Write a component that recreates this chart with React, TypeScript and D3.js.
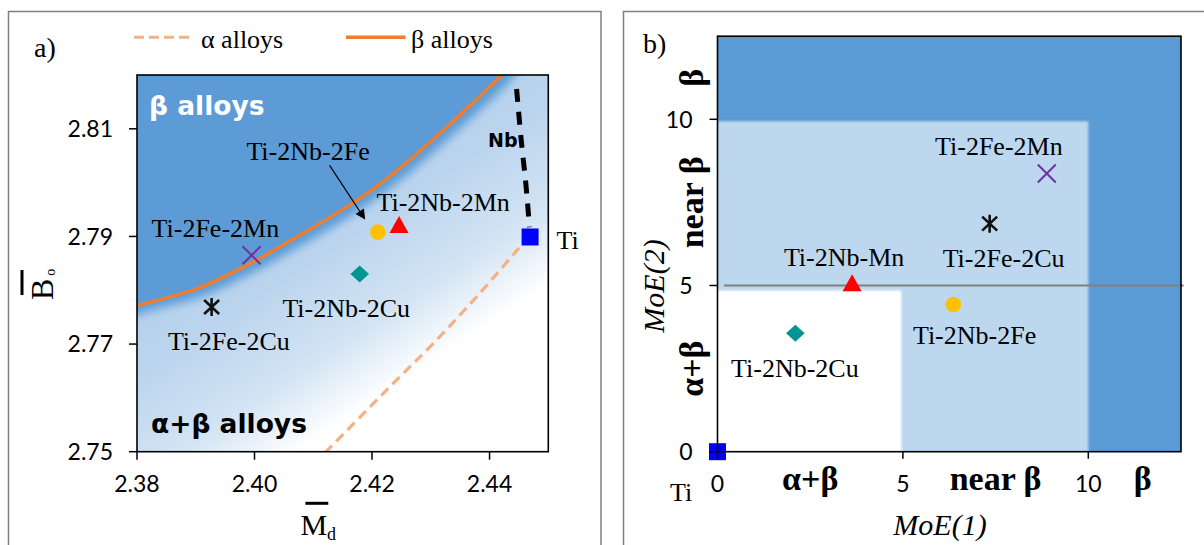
import React from 'react';
import * as d3 from 'd3';

// ---- panel a : Bo vs Md ----
const alloysA = ['Ti', 'Ti-2Nb-2Fe', 'Ti-2Nb-2Mn', 'Ti-2Fe-2Mn', 'Ti-2Nb-2Cu', 'Ti-2Fe-2Cu'];
const mdBar = [2.4469, 2.4210, 2.4246, 2.3995, 2.4179, 2.3927];
const boBar = [2.7899, 2.7908, 2.7917, 2.7865, 2.7830, 2.7769];

// beta / alpha boundary lines and the Nb direction
const betaMd = [2.3800, 2.3902, 2.3981, 2.4072, 2.4174, 2.4242, 2.4327, 2.4423];
const betaBo = [2.7772, 2.7803, 2.7843, 2.7899, 2.7967, 2.8022, 2.8103, 2.8202];
const alphaMd = [2.4469, 2.4454, 2.4383, 2.4304, 2.4247, 2.4191, 2.4120];
const alphaBo = [2.7900, 2.7883, 2.7794, 2.7701, 2.7639, 2.7577, 2.7498];
const nbMd = [2.4446, 2.4454, 2.4462, 2.4468];
const nbBo = [2.8174, 2.8078, 2.7995, 2.7917];

const mdTicks = [2.38, 2.40, 2.42, 2.44];
const boTicks = [2.75, 2.77, 2.79, 2.81];

// ---- panel b : MoE(2) vs MoE(1) ----
const alloysB = ['Ti', 'Ti-2Nb-2Fe', 'Ti-2Nb-Mn', 'Ti-2Fe-2Mn', 'Ti-2Nb-2Cu', 'Ti-2Fe-2Cu'];
const moe1 = [0, 6.36, 3.63, 8.88, 2.10, 7.34];
const moe2 = [0, 4.43, 5.0, 8.37, 3.56, 6.86];
const moeTicks = [0, 5, 10];
const moeLimits = [5, 10];
const zoneNames = ['α+β', 'near β', 'β'];

// marker style per alloy (same order in both panels)
const markerStyles = [
  { kind: 'square', color: '#0000ff' },
  { kind: 'circle', color: '#ffc000' },
  { kind: 'triangle', color: '#ff0000' },
  { kind: 'x', color: '#7030a0' },
  { kind: 'diamond', color: '#00968f' },
  { kind: 'asterisk', color: '#111111' },
];

// label offsets (px) relative to the marker: [dx, dy]
const labelOffA = [[26.5, 11.6], [-131.5, -71.7], [-22.6, -16.7], [-100, -18.3], [-77.3, 42.7], [-43.7, 43.3]];
const labelOffB = [[-47.5, 49.3], [-40.4, 39.7], [-68.2, -20], [-111.7, -18.3], [-64.3, 43.4], [-47, 43.4]];

const SERIF = '"Liberation Serif", "Times New Roman", serif';
const SANS = 'Lato, "Open Sans", sans-serif';
const BOLDSANS = '"DejaVu Sans", Verdana, sans-serif';

const xA = d3.scaleLinear().domain([2.38, 2.45]).range([137, 548.3]);
const yA = d3.scaleLinear().domain([2.75, 2.82]).range([451.7, 75]);
const xB = d3.scaleLinear().domain([0, 12.5]).range([717.5, 1181]);
const yB = d3.scaleLinear().domain([0, 12.5]).range([451.7, 36.2]);

function markerPath(kind: string) {
  const p = d3.path();
  if (kind === 'square') {
    p.rect(-8.5, -8.5, 17, 17);
  } else if (kind === 'circle') {
    p.arc(0, 0, 7.8, 0, Math.PI * 2);
  } else if (kind === 'triangle') {
    p.moveTo(0, -11.3); p.lineTo(9.5, 5.7); p.lineTo(-9.5, 5.7); p.closePath();
  } else if (kind === 'diamond') {
    p.moveTo(0, -8.5); p.lineTo(9.3, 0); p.lineTo(0, 8.5); p.lineTo(-9.3, 0); p.closePath();
  } else if (kind === 'x') {
    p.moveTo(-9, -9); p.lineTo(9, 9); p.moveTo(-9, 9); p.lineTo(9, -9);
  } else {
    p.moveTo(0, -9); p.lineTo(0, 9);
    p.moveTo(-7.5, -7); p.lineTo(7.5, 7); p.moveTo(-7.5, 7); p.lineTo(7.5, -7);
  }
  return p.toString();
}

function Marker({ i, x, y }: { i: number; x: number; y: number }) {
  const s = markerStyles[i];
  const stroked = s.kind === 'x' || s.kind === 'asterisk';
  return (
    <path
      d={markerPath(s.kind)}
      transform={`translate(${x},${y})`}
      fill={stroked ? 'none' : s.color}
      stroke={stroked ? s.color : 'none'}
      strokeWidth={stroked ? (s.kind === 'x' ? 2 : 2.6) : 0}
    />
  );
}

function PanelA() {
  const [l, r] = xA.range();
  const [b, t] = yA.range();
  const curve = d3.line<number>().x(i => xA(betaMd[i])).y(i => yA(betaBo[i])).curve(d3.curveCatmullRom);
  const betaIdx = d3.range(betaMd.length);
  const alphaLine = d3.line<number>().x(i => xA(alphaMd[i])).y(i => yA(alphaBo[i])).curve(d3.curveCatmullRom);
  const nbLine = d3.line<number>().x(i => xA(nbMd[i])).y(i => yA(nbBo[i])).curve(d3.curveCatmullRom);

  // dark beta field: area above the beta line, extended past the frame
  const betaPts: [number, number][] = betaIdx.map(i => [xA(betaMd[i]), yA(betaBo[i])]);
  const darkPts: [number, number][] = [[l - 40, betaPts[0][1] + 14], ...betaPts, [betaPts[betaPts.length - 1][0] + 14, t - 20]];
  const darkArea = d3.area<[number, number]>().x(d => d[0]).y0(t - 60).y1(d => d[1]).curve(d3.curveCatmullRom)(darkPts);

  const feIdx = 1;
  const fx = xA(mdBar[feIdx]);
  const fy = yA(boBar[feIdx]);

  return (
    <g>
      <defs>
        <clipPath id="clipA"><rect x={l} y={t} width={r - l} height={b - t} /></clipPath>
        <linearGradient id="gradA" gradientUnits="userSpaceOnUse" x1={119} y1={176} x2={300.5} y2={450}>
          <stop offset="0" stopColor="#a9c8e8" />
          <stop offset="0.55" stopColor="#bcd5ee" />
          <stop offset="0.8" stopColor="#d3e4f4" />
          <stop offset="1" stopColor="#ffffff" />
        </linearGradient>
        <filter id="blurA" x="-20%" y="-20%" width="140%" height="140%">
          <feGaussianBlur stdDeviation="5" />
        </filter>
        <marker id="arrowHead" viewBox="0 0 10 10" refX="9" refY="5" markerWidth="13" markerHeight="10"
          markerUnits="userSpaceOnUse" orient="auto">
          <path d="M0,0 L10,5 L0,10 z" fill="#000" />
        </marker>
      </defs>

      <rect x={8.5} y={11.5} width={592.5} height={560} fill="none" stroke="#808080" strokeWidth={1.5} />

      <g clipPath="url(#clipA)">
        <rect x={l} y={t} width={r - l} height={b - t} fill="url(#gradA)" />
        <path d={darkArea || ''} fill="#5b9bd5" filter="url(#blurA)" transform="translate(7,7)" />
        <path d={alphaLine(d3.range(alphaMd.length)) || ''} fill="none" stroke="#f4b183" strokeWidth={3.2} strokeDasharray="10 6" />
        <path d={curve(betaIdx) || ''} fill="none" stroke="#ed7d31" strokeWidth={3.5} />
        <path d={nbLine(d3.range(nbMd.length)) || ''} fill="none" stroke="#000" strokeWidth={5} strokeDasharray="13 10" />
      </g>

      {/* legend */}
      <text x={34} y={57} fontFamily={SERIF} fontSize={28}>a)</text>
      <line x1={134} x2={189} y1={37.3} y2={37.3} stroke="#f4b183" strokeWidth={3} strokeDasharray="10 5" />
      <text x={201} y={47.5} fontFamily={SERIF} fontSize={26}>α alloys</text>
      <line x1={346} x2={405.6} y1={37.3} y2={37.3} stroke="#ed7d31" strokeWidth={3.5} />
      <text x={411} y={47.5} fontFamily={SERIF} fontSize={26}>β alloys</text>

      {/* field names */}
      <text x={149} y={115} fontFamily={BOLDSANS} fontWeight="bold" fontSize={26.5} fill="#fff">β alloys</text>
      <text x={151} y={433} fontFamily={BOLDSANS} fontWeight="bold" fontSize={26.5} fill="#000">α+β alloys</text>
      <text x={488} y={147} fontFamily={BOLDSANS} fontWeight="bold" fontSize={19} fill="#000">Nb</text>

      {/* arrow to Ti-2Nb-2Fe */}
      <line x1={fx - 48.3} y1={fy - 66.7} x2={fx - 13.3} y2={fy - 13.4} stroke="#000" strokeWidth={1.2} markerEnd="url(#arrowHead)" />

      {alloysA.map((name, i) => {
        const x = xA(mdBar[i]);
        const y = yA(boBar[i]);
        return (
          <g key={name}>
            <Marker i={i} x={x} y={y} />
            <text x={x + labelOffA[i][0]} y={y + labelOffA[i][1]} fontFamily={SERIF} fontSize={26} fill="#000">
              {name}
            </text>
          </g>
        );
      })}

      {/* axes */}
      <rect x={l} y={t} width={r - l} height={b - t} fill="none" stroke="#000" strokeWidth={1.6} />
      {mdTicks.map(v => (
        <g key={v}>
          <line x1={xA(v)} x2={xA(v)} y1={b} y2={b + 8} stroke="#000" strokeWidth={1.5} />
          <text x={xA(v)} y={492} textAnchor="middle" fontFamily={SANS} fontSize={23}>{v.toFixed(2)}</text>
        </g>
      ))}
      {boTicks.map(v => (
        <g key={v}>
          <line x1={l - 8} x2={l} y1={yA(v)} y2={yA(v)} stroke="#000" strokeWidth={1.5} />
          <text x={113} y={yA(v)} dy="0.36em" textAnchor="end" fontFamily={SANS} fontSize={23}>{v.toFixed(2)}</text>
        </g>
      ))}
      {/* axis titles */}
      <text x={300.4} y={535} fontFamily={SERIF} fontSize={30}>M<tspan fontSize={18} dy={5}>d</tspan></text>
      <line x1={305.4} x2={328.3} y1={503.3} y2={503.3} stroke="#000" strokeWidth={3} />
      <g transform="translate(53,300) rotate(-90)">
        <text x={0} y={0} fontFamily={SERIF} fontSize={32}>B<tspan fontSize={14} dx={3} dy={2}>o</tspan></text>
        <line x1={5} x2={30} y1={-31} y2={-31} stroke="#000" strokeWidth={3} />
      </g>
    </g>
  );
}

function PanelB() {
  const [l, r] = xB.range();
  const [b, t] = yB.range();
  const zones = [[0, moeLimits[0]], [moeLimits[0], moeLimits[1]], [moeLimits[1], 12.5]];
  const yLine = moeLimits[0];
  return (
    <g>
      <defs>
        <clipPath id="clipB"><rect x={l} y={t} width={r - l} height={b - t} /></clipPath>
        <filter id="blurB" x="-10%" y="-10%" width="120%" height="120%">
          <feGaussianBlur stdDeviation="1.2" />
        </filter>
      </defs>
      <rect x={623.5} y={11.5} width={600} height={560} fill="none" stroke="#808080" strokeWidth={1.5} />

      <g clipPath="url(#clipB)">
        <rect x={l} y={t} width={r - l} height={b - t} fill="#5b9bd5" />
        <rect x={xB(-1)} y={yB(moeLimits[1]) + 2} width={xB(moeLimits[1]) - xB(-1)} height={yB(-1) - yB(moeLimits[1]) - 2}
          fill="#bdd7ee" filter="url(#blurB)" />
        <rect x={xB(-1)} y={yB(moeLimits[0]) + 5} width={xB(moeLimits[0]) - xB(-1) - 1.5} height={yB(-1) - yB(moeLimits[0]) - 5}
          fill="#ffffff" filter="url(#blurB)" />
      </g>

      <line x1={l + 6.5} x2={r + 2.6} y1={yB(yLine)} y2={yB(yLine)} stroke="#808080" strokeWidth={2} />

      <text x={643} y={53} fontFamily={SERIF} fontSize={28}>b)</text>

      {alloysB.map((name, i) => {
        const x = xB(moe1[i]);
        const y = yB(moe2[i]);
        return (
          <g key={name}>
            <Marker i={i} x={x} y={y} />
            <text x={x + labelOffB[i][0]} y={y + labelOffB[i][1]} fontFamily={SERIF} fontSize={26} fill="#000">
              {name}
            </text>
          </g>
        );
      })}

      <rect x={l} y={t} width={r - l} height={b - t} fill="none" stroke="#000" strokeWidth={1.6} />
      {moeTicks.map(v => (
        <g key={v}>
          <line x1={xB(v)} x2={xB(v)} y1={b} y2={b + 7} stroke="#000" strokeWidth={1.5} />
          <text x={xB(v)} y={492} textAnchor="middle" fontFamily={SANS} fontSize={23}>{v}</text>
          <line x1={l - 8} x2={l} y1={yB(v)} y2={yB(v)} stroke="#000" strokeWidth={1.5} />
          <text x={692.5} y={yB(v)} dy="0.36em" textAnchor="end" fontFamily={SANS} fontSize={23}>{v}</text>
        </g>
      ))}
      {/* zone names along both axes */}
      {zoneNames.map((z, i) => {
        const mid = (zones[i][0] + zones[i][1]) / 2;
        return (
          <g key={z}>
            <text x={xB(mid) + (i === 2 ? 8 : 0)} y={490} textAnchor="middle" fontFamily={SERIF} fontWeight="bold" fontSize={34}>{z}</text>
            <text transform={`translate(703,${yB(mid)}) rotate(-90)`} textAnchor="middle" fontFamily={SERIF} fontWeight="bold" fontSize={34}>{z}</text>
          </g>
        );
      })}
      <text x={940} y={535} textAnchor="middle" fontFamily={SERIF} fontStyle="italic" fontSize={30}>MoE(1)</text>
      <text transform="translate(664,286) rotate(-90)" textAnchor="middle" fontFamily={SERIF} fontStyle="italic" fontSize={30}>MoE(2)</text>
    </g>
  );
}

export default function App() {
  return (
    <svg width={1204} height={545} style={{ position: 'absolute', left: 0, top: 0, background: '#fff' }}>
      <rect width={1204} height={545} fill="#fff" />
      <PanelA />
      <PanelB />
    </svg>
  );
}
